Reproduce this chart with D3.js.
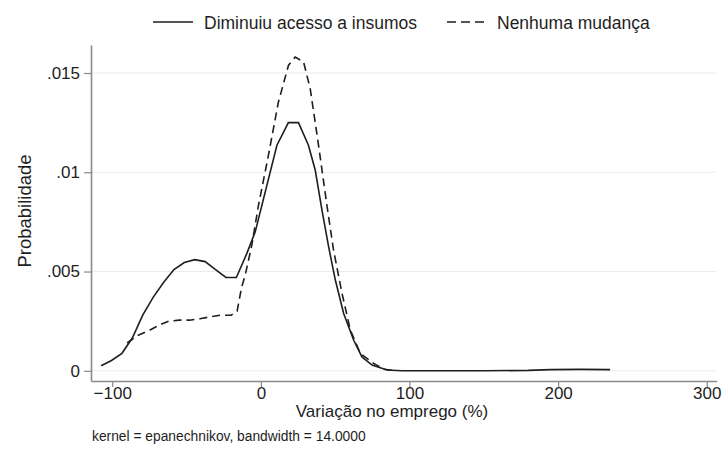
<!DOCTYPE html>
<html>
<head>
<meta charset="utf-8">
<script src="https://cdn.jsdelivr.net/npm/d3@7"></script>
<style>
  html, body { margin: 0; padding: 0; background: #fff; }
  svg { display: block; font-family: 'Liberation Sans', Arial, sans-serif; }
</style>
</head>
<body>
<svg></svg>
<script>
// data

var seriesNames = ['Diminuiu acesso a insumos', 'Nenhuma mudança']

var solidX = [-107.5, -100.5, -93.5, -86.5, -79.5, -72.5, -65.5, -58.5, -51.5, -44.5,
  -37.5, -30.5, -23.5, -16.5, -9.5, -3.8, 2.9, 10.8, 18.5, 25.3,
  32, 36.6, 41.1, 45.6, 50.1, 55.7, 62.4, 68, 74.8, 84.9,
  95, 150, 180, 195, 215, 235]
var solidY = [0.00025, 0.00052, 0.00088, 0.00165, 0.0028, 0.0037, 0.00445, 0.0051, 0.00545, 0.0056,
  0.0055, 0.0051, 0.0047, 0.0047, 0.0059, 0.007, 0.009, 0.01136, 0.0125, 0.0125,
  0.01136, 0.0101, 0.00809, 0.00624, 0.00457, 0.00289, 0.00155, 0.0007, 0.00029, 0.00004,
  0, 0, 0.00002, 0.00006, 0.00007, 0.00006]

var dashX = [-90, -83, -76, -69, -62, -55, -48, -41, -34, -27,
  -20, -16, -13, -10.6, -6.1, -1.6, 5.1, 11.8, 18.6, 23.1,
  28.7, 33.2, 38.8, 44.5, 48.9, 54.6, 60.2, 66.9, 75.9, 83,
  90]
var dashY = [0.0014, 0.00178, 0.002, 0.00228, 0.0025, 0.00255, 0.00255, 0.00262, 0.00272, 0.0028,
  0.0028, 0.003, 0.0042, 0.0048, 0.00633, 0.00834, 0.01086, 0.01354, 0.01539, 0.0158,
  0.01556, 0.01421, 0.01136, 0.0083, 0.00608, 0.0039, 0.00205, 0.00088, 0.00037, 0.00008,
  0.00001]

var xTicks = [-100, 0, 100, 200, 300]
var yTicks = [0, 0.005, 0.01, 0.015]
var yTickLabels = ['0', '.005', '.01', '.015']

var xTitle = 'Variação no emprego (%)'
var yTitle = 'Probabilidade'
var note = 'kernel = epanechnikov, bandwidth = 14.0000'

// -----------------

var w = 722
var h = 463
var ink = '#1e1e1e'
var axisGrey = '#8a8a8a'

var svg = d3.select('svg')
    .attr('width', w)
    .attr('height', h)

var x = d3.scaleLinear()
    .domain([-114.3, 306.7])
    .range([91, 716.7])

var y = d3.scaleLinear()
    .domain([-0.000514, 0.01641])
    .range([381, 45])

// grid
svg.append('g')
  .selectAll('line')
  .data(yTicks)
  .enter()
  .append('line')
  .attr('x1', x.range()[0])
  .attr('x2', x.range()[1])
  .attr('y1', function (d) { return y(d) })
  .attr('y2', function (d) { return y(d) })
  .attr('stroke', '#ebebeb')
  .attr('stroke-width', 1)

// axes
var gx = svg.append('g')
    .attr('transform', 'translate(0,' + y.range()[0] + ')')
    .call(d3.axisBottom(x).tickValues(xTicks).tickSize(6).tickSizeOuter(0).tickPadding(0))

var gy = svg.append('g')
    .attr('transform', 'translate(' + x.range()[0] + ',0)')
    .call(d3.axisLeft(y).tickValues(yTicks).tickSize(7).tickSizeOuter(0).tickPadding(4)
      .tickFormat(function (d, i) { return yTickLabels[i] }))

svg.selectAll('.domain').attr('stroke', axisGrey).attr('stroke-width', 1.6)
svg.selectAll('.tick line').attr('stroke', axisGrey).attr('stroke-width', 1.2)
svg.selectAll('.tick text')
  .attr('fill', ink)
  .style('font-size', '17px')
  .style('font-family', "'Liberation Sans', Arial, sans-serif")

gx.selectAll('.tick text').attr('dy', '0.71em')

// curves
var line = d3.line()
    .x(function (d) { return x(d[0]) })
    .y(function (d) { return y(d[1]) })

var solid = solidX.map(function (v, i) { return [v, solidY[i]] })
var dashed = dashX.map(function (v, i) { return [v, dashY[i]] })

svg.append('path')
  .datum(dashed)
  .attr('d', line)
  .attr('fill', 'none')
  .attr('stroke', ink)
  .attr('stroke-width', 1.6)
  .attr('stroke-dasharray', '8,5')

svg.append('path')
  .datum(solid)
  .attr('d', line)
  .attr('fill', 'none')
  .attr('stroke', ink)
  .attr('stroke-width', 1.6)

// titles
svg.append('text')
  .text(xTitle)
  .attr('x', 392)
  .attr('y', 417)
  .attr('text-anchor', 'middle')
  .attr('fill', ink)
  .style('font-size', '17px')

svg.append('text')
  .text(yTitle)
  .attr('transform', 'translate(31,211) rotate(-90)')
  .attr('text-anchor', 'middle')
  .attr('fill', ink)
  .style('font-size', '18.5px')

svg.append('text')
  .text(note)
  .attr('x', 92)
  .attr('y', 441)
  .attr('fill', ink)
  .style('font-size', '13.8px')

// legend
var legend = svg.append('g')
var items = [
  { name: seriesNames[0], x1: 153, x2: 193, tx: 204, dash: null },
  { name: seriesNames[1], x1: 447, x2: 486, tx: 497, dash: '9,5' }
]

legend.selectAll('line')
  .data(items)
  .enter()
  .append('line')
  .attr('x1', function (d) { return d.x1 })
  .attr('x2', function (d) { return d.x2 })
  .attr('y1', 22)
  .attr('y2', 22)
  .attr('stroke', ink)
  .attr('stroke-width', 1.6)
  .attr('stroke-dasharray', function (d) { return d.dash })

legend.selectAll('text')
  .data(items)
  .enter()
  .append('text')
  .text(function (d) { return d.name })
  .attr('x', function (d) { return d.tx })
  .attr('y', 28.5)
  .attr('fill', ink)
  .style('font-size', '17.5px')
</script>
</body>
</html>
